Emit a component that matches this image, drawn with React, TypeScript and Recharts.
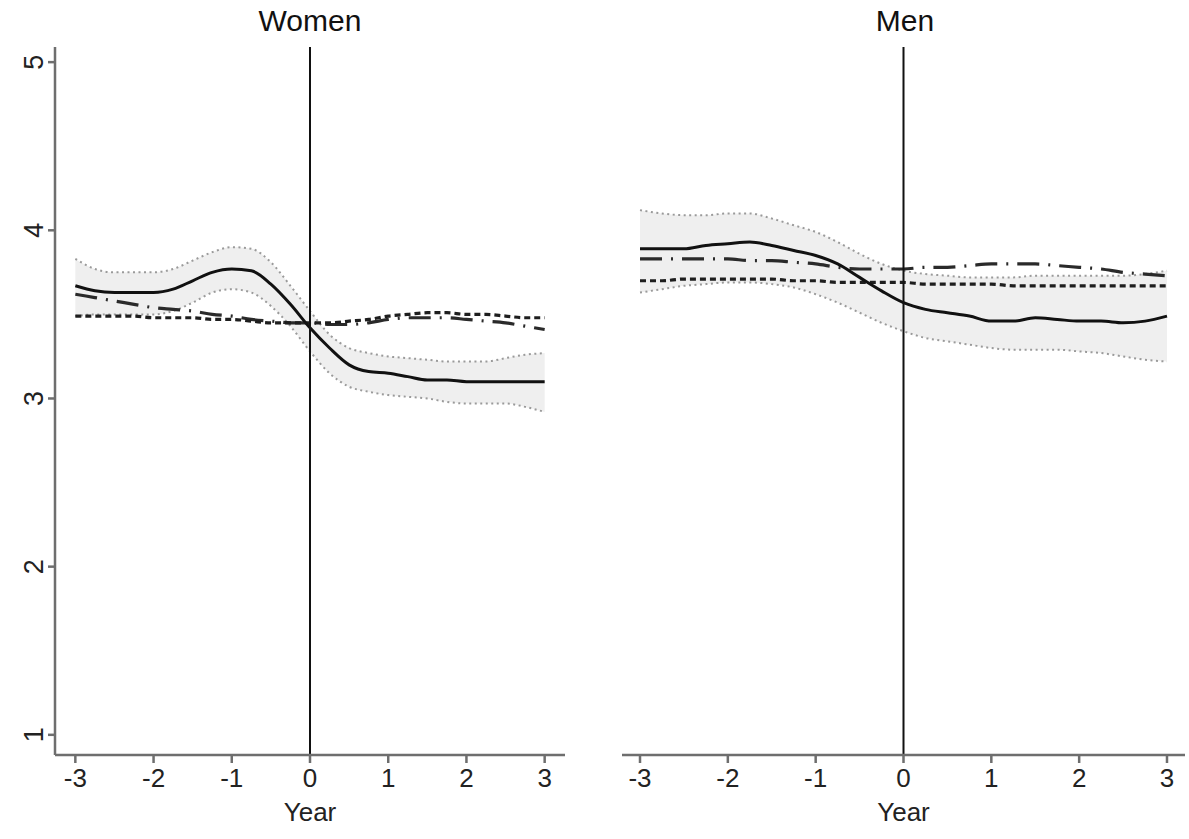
import { ComposedChart, Line, Area, XAxis, YAxis, ReferenceLine } from 'recharts';

const years = [-3, -2.75, -2.5, -2.25, -2, -1.75, -1.5, -1.25, -1, -0.75, -0.5, -0.25, 0, 0.25, 0.5, 0.75, 1, 1.25, 1.5, 1.75, 2, 2.25, 2.5, 2.75, 3];
const xTicks = [-3, -2, -1, 0, 1, 2, 3];
const yTicks = [1, 2, 3, 4, 5];

// Women
const womenMean = [3.67, 3.64, 3.63, 3.63, 3.63, 3.65, 3.70, 3.75, 3.77, 3.76, 3.68, 3.56, 3.42, 3.30, 3.20, 3.16, 3.15, 3.13, 3.11, 3.11, 3.10, 3.10, 3.10, 3.10, 3.10];
const womenHigh = [3.83, 3.77, 3.75, 3.75, 3.75, 3.77, 3.82, 3.87, 3.90, 3.89, 3.81, 3.67, 3.52, 3.38, 3.30, 3.27, 3.25, 3.24, 3.23, 3.22, 3.22, 3.22, 3.24, 3.26, 3.27];
const womenLow = [3.49, 3.50, 3.50, 3.50, 3.50, 3.52, 3.57, 3.63, 3.65, 3.63, 3.55, 3.43, 3.28, 3.15, 3.07, 3.04, 3.02, 3.01, 3.00, 2.98, 2.97, 2.97, 2.97, 2.95, 2.92];
const womenShortDash = [3.49, 3.49, 3.49, 3.49, 3.48, 3.48, 3.48, 3.47, 3.47, 3.46, 3.45, 3.45, 3.45, 3.45, 3.46, 3.47, 3.49, 3.50, 3.51, 3.51, 3.50, 3.50, 3.49, 3.48, 3.48];
const womenLongDash = [3.62, 3.60, 3.58, 3.56, 3.54, 3.53, 3.52, 3.50, 3.49, 3.47, 3.46, 3.45, 3.45, 3.44, 3.44, 3.45, 3.47, 3.48, 3.48, 3.48, 3.47, 3.46, 3.45, 3.43, 3.41];

// Men
const menMean = [3.89, 3.89, 3.89, 3.91, 3.92, 3.93, 3.91, 3.88, 3.85, 3.80, 3.72, 3.64, 3.57, 3.53, 3.51, 3.49, 3.46, 3.46, 3.48, 3.47, 3.46, 3.46, 3.45, 3.46, 3.49];
const menHigh = [4.12, 4.10, 4.09, 4.09, 4.10, 4.10, 4.07, 4.03, 3.99, 3.93, 3.86, 3.80, 3.76, 3.74, 3.73, 3.72, 3.72, 3.72, 3.73, 3.73, 3.73, 3.73, 3.73, 3.74, 3.76];
const menLow = [3.63, 3.65, 3.67, 3.68, 3.69, 3.69, 3.68, 3.66, 3.62, 3.57, 3.51, 3.45, 3.40, 3.36, 3.34, 3.32, 3.30, 3.29, 3.29, 3.29, 3.28, 3.27, 3.25, 3.23, 3.22];
const menShortDash = [3.70, 3.70, 3.71, 3.71, 3.71, 3.71, 3.71, 3.70, 3.70, 3.69, 3.69, 3.69, 3.69, 3.68, 3.68, 3.68, 3.68, 3.67, 3.67, 3.67, 3.67, 3.67, 3.67, 3.67, 3.67];
const menLongDash = [3.83, 3.83, 3.83, 3.83, 3.83, 3.82, 3.82, 3.81, 3.80, 3.78, 3.77, 3.77, 3.77, 3.78, 3.78, 3.79, 3.80, 3.80, 3.80, 3.79, 3.78, 3.77, 3.75, 3.74, 3.73];

const FONT = '"Liberation Sans", Arial, Helvetica, sans-serif';
const AXIS_GREY = '#6e6e6e';

function buildRows(mean: number[], low: number[], high: number[], shortDash: number[], longDash: number[]) {
  return years.map((year, i) => ({
    year,
    mean: mean[i],
    low: low[i],
    high: high[i],
    band: [low[i], high[i]],
    shortDash: shortDash[i],
    longDash: longDash[i],
  }));
}

const womenRows = buildRows(womenMean, womenLow, womenHigh, womenShortDash, womenLongDash);
const menRows = buildRows(menMean, menLow, menHigh, menShortDash, menLongDash);

function YTick(props: any) {
  const { x, y, payload } = props;
  return (
    <text
      x={x}
      y={y}
      transform={`rotate(-90 ${x} ${y})`}
      textAnchor="middle"
      fontSize={27}
      fontFamily={FONT}
      fill="#222"
    >
      {payload.value}
    </text>
  );
}

interface PanelProps {
  rows: any[];
  width: number;
  showY: boolean;
  margin: { top: number; right: number; bottom: number; left: number };
  xDomain: [number, number];
}

function Panel({ rows, width, showY, margin, xDomain }: PanelProps) {
  return (
    <ComposedChart width={width} height={839} data={rows} margin={margin}>
      <XAxis
        dataKey="year"
        type="number"
        domain={xDomain}
        ticks={xTicks}
        allowDataOverflow
        stroke={AXIS_GREY}
        strokeWidth={2.5}
        tickSize={8}
        tickMargin={6}
        height={80}
        tick={{ fontSize: 26, fontFamily: FONT, fill: '#222' }}
        label={{ value: 'Year', position: 'insideBottom', offset: 14, fontSize: 26, fontFamily: FONT, fill: '#222' }}
      />
      <YAxis
        type="number"
        domain={[0.88, 5.09]}
        ticks={yTicks}
        allowDataOverflow
        hide={!showY}
        width={55}
        stroke={AXIS_GREY}
        strokeWidth={2.5}
        tickSize={7}
        tickMargin={5}
        tick={<YTick />}
      />
      <Area
        dataKey="band"
        type="monotone"
        stroke="none"
        fill="#efefef"
        fillOpacity={1}
        isAnimationActive={false}
        dot={false}
        activeDot={false}
      />
      <Line dataKey="high" type="monotone" stroke="#9a9a9a" strokeWidth={2} strokeDasharray="2 3.5" dot={false} activeDot={false} isAnimationActive={false} />
      <Line dataKey="low" type="monotone" stroke="#9a9a9a" strokeWidth={2} strokeDasharray="2 3.5" dot={false} activeDot={false} isAnimationActive={false} />
      <Line dataKey="longDash" type="monotone" stroke="#2a2a2a" strokeWidth={3.2} strokeDasharray="22 9 2 9" dot={false} activeDot={false} isAnimationActive={false} />
      <Line dataKey="shortDash" type="monotone" stroke="#1e1e1e" strokeWidth={3.2} strokeDasharray="6 4" dot={false} activeDot={false} isAnimationActive={false} />
      <Line dataKey="mean" type="monotone" stroke="#111" strokeWidth={3} dot={false} activeDot={false} isAnimationActive={false} />
      <ReferenceLine x={0} stroke="#111" strokeWidth={2} />
    </ComposedChart>
  );
}

const titleStyle: React.CSSProperties = {
  position: 'absolute',
  top: 4,
  fontFamily: FONT,
  fontSize: 30,
  color: '#111',
  transform: 'translateX(-50%)',
  whiteSpace: 'nowrap',
};

export default function App() {
  return (
    <div style={{ position: 'absolute', left: 0, top: 0, width: 1189, height: 839, background: '#fff', overflow: 'hidden' }}>
      <div style={{ position: 'absolute', left: 0, top: 0 }}>
        <Panel rows={womenRows} width={600} showY margin={{ top: 47, right: 35, bottom: 4, left: 0 }} xDomain={[-3.26, 3.26]} />
      </div>
      <div style={{ position: 'absolute', left: 600, top: 0 }}>
        <Panel rows={menRows} width={589} showY={false} margin={{ top: 47, right: 4, bottom: 4, left: 22 }} xDomain={[-3.205, 3.205]} />
      </div>
      <div style={{ ...titleStyle, left: 310 }}>Women</div>
      <div style={{ ...titleStyle, left: 905 }}>Men</div>
    </div>
  );
}
